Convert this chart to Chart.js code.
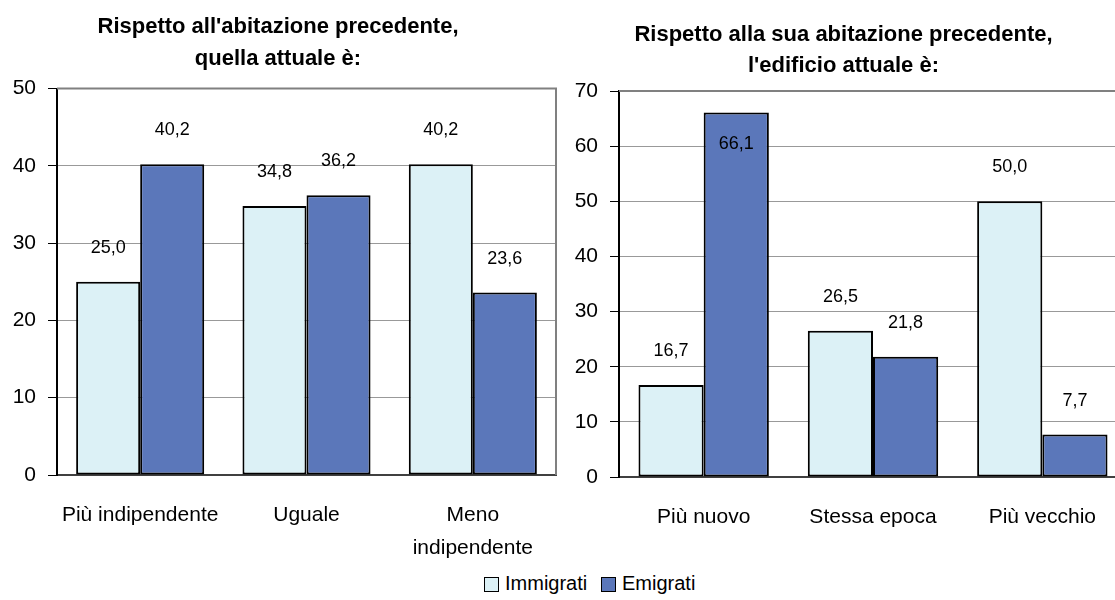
<!DOCTYPE html>
<html><head><meta charset="utf-8">
<script src="https://cdn.jsdelivr.net/npm/chart.js@4.4.1/dist/chart.umd.min.js"></script>
<style>
html,body{margin:0;padding:0;background:#fff;}
body{width:1115px;height:600px;overflow:hidden;position:relative;}
#c1{position:absolute;left:0;top:0;}
#c2{position:absolute;left:560px;top:0;}
#legend{position:absolute;left:0;top:572px;width:1115px;height:24px;}
.item{position:absolute;top:0;height:24px;line-height:24px;color:#000;white-space:nowrap;}
.box{position:absolute;top:5px;width:13px;height:13px;border:1px solid #000;}
</style>
</head><body>
<canvas id="c1" width="560" height="560"></canvas>
<canvas id="c2" width="580" height="560"></canvas>
<div id="legend"></div>
<script>
// ---- data ----
const seriesNames = ['Immigrati', 'Emigrati'];
const leftTitle = ["Rispetto all'abitazione precedente,", "quella attuale è:"];
const leftCategories = ['Più indipendente', 'Uguale', ['Meno', 'indipendente']];
const leftImmigrati = [25.0, 34.8, 40.2];
const leftEmigrati = [40.2, 36.2, 23.6];
const leftTicks = [0, 10, 20, 30, 40, 50];
const rightTitle = ["Rispetto alla sua abitazione precedente,", "l'edificio attuale è:"];
const rightCategories = ['Più nuovo', 'Stessa epoca', 'Più vecchio'];
const rightImmigrati = [16.7, 26.5, 50.0];
const rightEmigrati = [66.1, 21.8, 7.7];
const rightTicks = [0, 10, 20, 30, 40, 50, 60, 70];

const colors = ['#DCF1F6', '#5B77BA'];

function hasFont(name){
  const c = document.createElement('canvas').getContext('2d');
  const s = 'Più indipendente Immigrati 0123456789';
  c.font = '40px monospace'; const a = c.measureText(s).width;
  c.font = '40px "' + name + '", monospace'; const b = c.measureText(s).width;
  return Math.abs(a - b) > 0.5;
}
const NARROW = hasFont('Liberation Sans Narrow');
const axisFamily = NARROW ? '"Liberation Sans Narrow", "Liberation Sans", Arial, sans-serif' : '"Liberation Sans", Arial, sans-serif';
const S = NARROW ? {cat: 25, tick: 24, data: 22, legend: 24} : {cat: 21, tick: 21, data: 18, legend: 20};
const titleFamily = '"Liberation Sans", Arial, sans-serif';

Chart.defaults.font.family = axisFamily;
Chart.defaults.color = '#000';

const fmt = v => v.toFixed(1).replace('.', ',');

const valueLabels = {
  id: 'valueLabels',
  afterDatasetsDraw(chart) {
    const ctx = chart.ctx, area = chart.chartArea;
    ctx.save();
    ctx.font = S.data + 'px ' + axisFamily;
    ctx.fillStyle = '#000';
    ctx.textAlign = 'center';
    ctx.textBaseline = 'middle';
    chart.data.datasets.forEach((ds, i) => {
      chart.getDatasetMeta(i).data.forEach((el, j) => {
        let y = el.y - 34;
        if (y - 12 < area.top) y = el.y + 32;
        ctx.fillText(fmt(ds.data[j]), el.x, y);
      });
    });
    ctx.restore();
  }
};

const plotBorder = {
  id: 'plotBorder',
  beforeDatasetsDraw(chart) {
    const ctx = chart.ctx, a = chart.chartArea;
    ctx.save();
    ctx.strokeStyle = '#808080';
    ctx.lineWidth = 2;
    ctx.beginPath();
    ctx.moveTo(a.left, a.top);
    ctx.lineTo(a.right, a.top);
    ctx.lineTo(a.right, a.bottom);
    ctx.stroke();
    ctx.restore();
  }
};

function makeChart(id, title, cats, imm, emi, ticks, geo) {
  const maxTick = ticks[ticks.length - 1];
  const step = ticks[1] - ticks[0];
  return new Chart(document.getElementById(id), {
    type: 'bar',
    data: {
      labels: cats,
      datasets: [
        {label: seriesNames[0], data: imm, backgroundColor: colors[0], borderColor: '#000', borderWidth: 2, borderSkipped: false},
        {label: seriesNames[1], data: emi, backgroundColor: colors[1], borderColor: '#000', borderWidth: 2, borderSkipped: false}
      ]
    },
    options: {
      responsive: false,
      animation: false,
      devicePixelRatio: 1,
      categoryPercentage: 0.77,
      barPercentage: 1.0,
      layout: {padding: {left: 0, right: geo.padRight, top: 0, bottom: 0}},
      plugins: {
        legend: {display: false},
        tooltip: {enabled: false},
        title: {
          display: true,
          text: title,
          color: '#000',
          font: {family: titleFamily, size: 22, weight: 'bold', lineHeight: 31.5 / 22},
          padding: {top: geo.titleTop, bottom: geo.titleBottom}
        }
      },
      scales: {
        x: {
          grid: {display: false, drawTicks: false},
          border: {display: true, color: '#404040', width: 2},
          ticks: {font: {size: S.cat, lineHeight: 1.6}, padding: 23, color: '#000', maxRotation: 0, autoSkip: false},
          afterFit(s) { s.height = geo.xHeight; }
        },
        y: {
          min: 0, max: maxTick,
          afterBuildTicks(s) { s.ticks = ticks.map(v => ({value: v})); },
          grid: {color: '#999', lineWidth: 1, tickLength: 9, tickColor: '#000'},
          border: {display: true, color: '#000', width: 2},
          ticks: {stepSize: step, font: {size: S.tick}, padding: 12, color: '#000'},
          afterFit(s) { s.width = geo.yWidth; }
        }
      }
    },
    plugins: [plotBorder, valueLabels]
  });
}

makeChart('c1', leftTitle, leftCategories, leftImmigrati, leftEmigrati, leftTicks,
  {padRight: 4, titleTop: 11.5, titleBottom: 14, yWidth: 57, xHeight: 85});
makeChart('c2', rightTitle, rightCategories, rightImmigrati, rightEmigrati, rightTicks,
  {padRight: 13, titleTop: 19, titleBottom: 9, yWidth: 59, xHeight: 83});

// legend (HTML)
const legend = document.getElementById('legend');
const legendX = [[484, 505], [601, 622]];
seriesNames.forEach((n, i) => {
  const b = document.createElement('div');
  b.className = 'box'; b.style.left = legendX[i][0] + 'px'; b.style.background = colors[i];
  legend.appendChild(b);
  const t = document.createElement('div');
  t.className = 'item'; t.style.left = legendX[i][1] + 'px';
  t.style.font = S.legend + 'px ' + axisFamily;
  t.textContent = n;
  legend.appendChild(t);
});
</script>
</body></html>
